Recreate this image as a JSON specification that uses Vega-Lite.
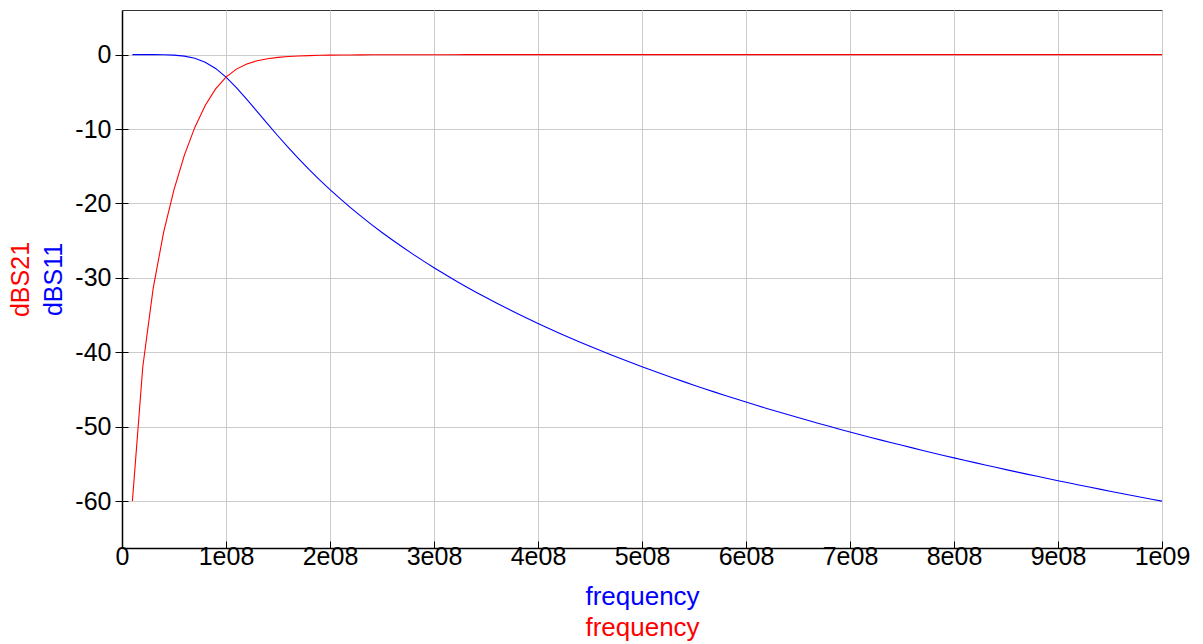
{
  "$schema": "https://vega.github.io/schema/vega-lite/v6.json",
  "width": 1040,
  "height": 538,
  "autosize": {"type": "none"},
  "padding": {"left": 122, "top": 10, "right": 41, "bottom": 96},
  "background": "white",
  "config": {
    "font": "Liberation Sans",
    "view": {"stroke": "#333333", "strokeWidth": 1}
  },
  "data": {
    "values": [
      {"f": 1e7, "s21": -60.0, "s11": 0},
      {"f": 2e7, "s21": -41.94, "s11": -0.0003},
      {"f": 3e7, "s21": -31.38, "s11": -0.003},
      {"f": 4e7, "s21": -23.89, "s11": -0.018},
      {"f": 5e7, "s21": -18.13, "s11": -0.067},
      {"f": 6e7, "s21": -13.51, "s11": -0.198},
      {"f": 7e7, "s21": -9.78, "s11": -0.483},
      {"f": 8e7, "s21": -6.83, "s11": -1.011},
      {"f": 9e7, "s21": -4.6, "s11": -1.851},
      {"f": 1e8, "s21": -3.01, "s11": -3.01},
      {"f": 1.1e8, "s21": -1.944, "s11": -4.427},
      {"f": 1.2e8, "s21": -1.255, "s11": -6.005},
      {"f": 1.3e8, "s21": -0.818, "s11": -7.655},
      {"f": 1.4e8, "s21": -0.542, "s11": -9.309},
      {"f": 1.5e8, "s21": -0.365, "s11": -10.931},
      {"f": 1.6e8, "s21": -0.251, "s11": -12.499},
      {"f": 1.7e8, "s21": -0.176, "s11": -14.003},
      {"f": 1.8e8, "s21": -0.126, "s11": -15.442},
      {"f": 1.9e8, "s21": -0.091, "s11": -16.817},
      {"f": 2e8, "s21": -0.067, "s11": -18.129},
      {"f": 2.1e8, "s21": -0.05, "s11": -19.384},
      {"f": 2.2e8, "s21": -0.038, "s11": -20.584},
      {"f": 2.3e8, "s21": -0.029, "s11": -21.733},
      {"f": 2.4e8, "s21": -0.023, "s11": -22.835},
      {"f": 2.5e8, "s21": -0.018, "s11": -23.894},
      {"f": 2.6e8, "s21": -0.014, "s11": -24.912},
      {"f": 2.7e8, "s21": -0.011, "s11": -25.893},
      {"f": 2.8e8, "s21": -0.009, "s11": -26.838},
      {"f": 2.9e8, "s21": -0.007, "s11": -27.751},
      {"f": 3e8, "s21": -0.006, "s11": -28.633},
      {"f": 3.1e8, "s21": -0.005, "s11": -29.487},
      {"f": 3.2e8, "s21": -0.004, "s11": -30.313},
      {"f": 3.3e8, "s21": -0.003, "s11": -31.114},
      {"f": 3.4e8, "s21": -0.003, "s11": -31.892},
      {"f": 3.5e8, "s21": 0, "s11": -32.646},
      {"f": 3.6e8, "s21": 0, "s11": -33.38},
      {"f": 3.7e8, "s21": 0, "s11": -34.094},
      {"f": 3.8e8, "s21": 0, "s11": -34.788},
      {"f": 3.9e8, "s21": 0, "s11": -35.465},
      {"f": 4e8, "s21": 0, "s11": -36.125},
      {"f": 4.1e8, "s21": 0, "s11": -36.768},
      {"f": 4.2e8, "s21": 0, "s11": -37.395},
      {"f": 4.3e8, "s21": 0, "s11": -38.008},
      {"f": 4.4e8, "s21": 0, "s11": -38.607},
      {"f": 4.5e8, "s21": 0, "s11": -39.193},
      {"f": 4.6e8, "s21": 0, "s11": -39.765},
      {"f": 4.7e8, "s21": 0, "s11": -40.326},
      {"f": 4.8e8, "s21": 0, "s11": -40.874},
      {"f": 4.9e8, "s21": 0, "s11": -41.412},
      {"f": 5e8, "s21": 0, "s11": -41.939},
      {"f": 5.1e8, "s21": 0, "s11": -42.454},
      {"f": 5.2e8, "s21": 0, "s11": -42.96},
      {"f": 5.3e8, "s21": 0, "s11": -43.457},
      {"f": 5.4e8, "s21": 0, "s11": -43.944},
      {"f": 5.5e8, "s21": 0, "s11": -44.422},
      {"f": 5.6e8, "s21": 0, "s11": -44.891},
      {"f": 5.7e8, "s21": 0, "s11": -45.353},
      {"f": 5.8e8, "s21": 0, "s11": -45.806},
      {"f": 5.9e8, "s21": 0, "s11": -46.251},
      {"f": 6e8, "s21": 0, "s11": -46.689},
      {"f": 6.1e8, "s21": 0, "s11": -47.12},
      {"f": 6.2e8, "s21": 0, "s11": -47.544},
      {"f": 6.3e8, "s21": 0, "s11": -47.96},
      {"f": 6.4e8, "s21": 0, "s11": -48.371},
      {"f": 6.5e8, "s21": 0, "s11": -48.775},
      {"f": 6.6e8, "s21": 0, "s11": -49.173},
      {"f": 6.7e8, "s21": 0, "s11": -49.565},
      {"f": 6.8e8, "s21": 0, "s11": -49.951},
      {"f": 6.9e8, "s21": 0, "s11": -50.331},
      {"f": 7e8, "s21": 0, "s11": -50.706},
      {"f": 7.1e8, "s21": 0, "s11": -51.075},
      {"f": 7.2e8, "s21": 0, "s11": -51.44},
      {"f": 7.3e8, "s21": 0, "s11": -51.799},
      {"f": 7.4e8, "s21": 0, "s11": -52.154},
      {"f": 7.5e8, "s21": 0, "s11": -52.504},
      {"f": 7.6e8, "s21": 0, "s11": -52.849},
      {"f": 7.7e8, "s21": 0, "s11": -53.189},
      {"f": 7.8e8, "s21": 0, "s11": -53.526},
      {"f": 7.9e8, "s21": 0, "s11": -53.858},
      {"f": 8e8, "s21": 0, "s11": -54.185},
      {"f": 8.1e8, "s21": 0, "s11": -54.509},
      {"f": 8.2e8, "s21": 0, "s11": -54.829},
      {"f": 8.3e8, "s21": 0, "s11": -55.145},
      {"f": 8.4e8, "s21": 0, "s11": -55.457},
      {"f": 8.5e8, "s21": 0, "s11": -55.765},
      {"f": 8.6e8, "s21": 0, "s11": -56.07},
      {"f": 8.7e8, "s21": 0, "s11": -56.371},
      {"f": 8.8e8, "s21": 0, "s11": -56.669},
      {"f": 8.9e8, "s21": 0, "s11": -56.963},
      {"f": 9e8, "s21": 0, "s11": -57.255},
      {"f": 9.1e8, "s21": 0, "s11": -57.542},
      {"f": 9.2e8, "s21": 0, "s11": -57.827},
      {"f": 9.3e8, "s21": 0, "s11": -58.109},
      {"f": 9.4e8, "s21": 0, "s11": -58.388},
      {"f": 9.5e8, "s21": 0, "s11": -58.663},
      {"f": 9.6e8, "s21": 0, "s11": -58.936},
      {"f": 9.7e8, "s21": 0, "s11": -59.206},
      {"f": 9.8e8, "s21": 0, "s11": -59.474},
      {"f": 9.9e8, "s21": 0, "s11": -59.738},
      {"f": 1e9, "s21": 0, "s11": -60.0}
    ]
  },
  "layer": [
    {
      "mark": {"type": "line", "color": "#0000ff", "strokeWidth": 1.1, "clip": true},
      "encoding": {
        "x": {
          "field": "f", "type": "quantitative",
          "scale": {"domain": [0, 1e9], "nice": false, "zero": false},
          "axis": {
            "orient": "bottom",
            "values": [0, 1e8, 2e8, 3e8, 4e8, 5e8, 6e8, 7e8, 8e8, 9e8, 1e9],
            "labelExpr": "datum.value == 0 ? '0' : (datum.value >= 1e9 ? '1e09' : format(datum.value / 1e8, 'd') + 'e08')",
            "labelFontSize": 25, "labelColor": "#000000", "labelPadding": 3,
            "labelFlush": false, "labelOverlap": false,
            "tickSize": -7, "tickColor": "#000000", "tickWidth": 1,
            "domainColor": "#000000", "domainWidth": 1.5,
            "grid": true, "gridColor": "#cccccc", "gridWidth": 1,
            "title": "frequency", "titleColor": "#0000ff", "titleFontSize": 26,
            "titleFontWeight": "normal", "titlePadding": 14
          }
        },
        "y": {
          "field": "s11", "type": "quantitative",
          "scale": {"domain": [-66.3, 6], "nice": false, "zero": false},
          "axis": {
            "orient": "left",
            "values": [-60, -50, -40, -30, -20, -10, 0],
            "labelExpr": "'' + datum.value",
            "labelFontSize": 25, "labelColor": "#000000", "labelPadding": 4,
            "labelFlush": false, "labelOverlap": false,
            "tickSize": 7, "tickColor": "#000000", "tickWidth": 1,
            "domainColor": "#000000", "domainWidth": 1.5,
            "grid": true, "gridColor": "#cccccc", "gridWidth": 1,
            "title": "dBS11", "titleColor": "#0000ff", "titleFontSize": 25,
            "titleFontWeight": "normal", "titlePadding": 8
          }
        }
      }
    },
    {
      "mark": {"type": "line", "color": "#ff0000", "strokeWidth": 1.1, "clip": true},
      "encoding": {
        "x": {
          "field": "f", "type": "quantitative",
          "scale": {"domain": [0, 1e9], "nice": false, "zero": false},
          "axis": {
            "orient": "bottom",
            "labels": false, "ticks": false, "domain": false, "grid": false,
            "title": "frequency", "titleColor": "#ff0000", "titleFontSize": 26,
            "titleFontWeight": "normal", "titlePadding": 66
          }
        },
        "y": {
          "field": "s21", "type": "quantitative",
          "scale": {"domain": [-66.3, 6], "nice": false, "zero": false},
          "axis": {
            "orient": "left",
            "values": [-60, -50, -40, -30, -20, -10, 0],
            "labels": false, "domain": false, "grid": false,
            "tickSize": -6, "tickColor": "#000000", "tickWidth": 1,
            "title": "dBS21", "titleColor": "#ff0000", "titleFontSize": 25,
            "titleFontWeight": "normal", "titlePadding": 88
          }
        }
      }
    }
  ],
  "resolve": {"axis": {"x": "independent", "y": "independent"}}
}
